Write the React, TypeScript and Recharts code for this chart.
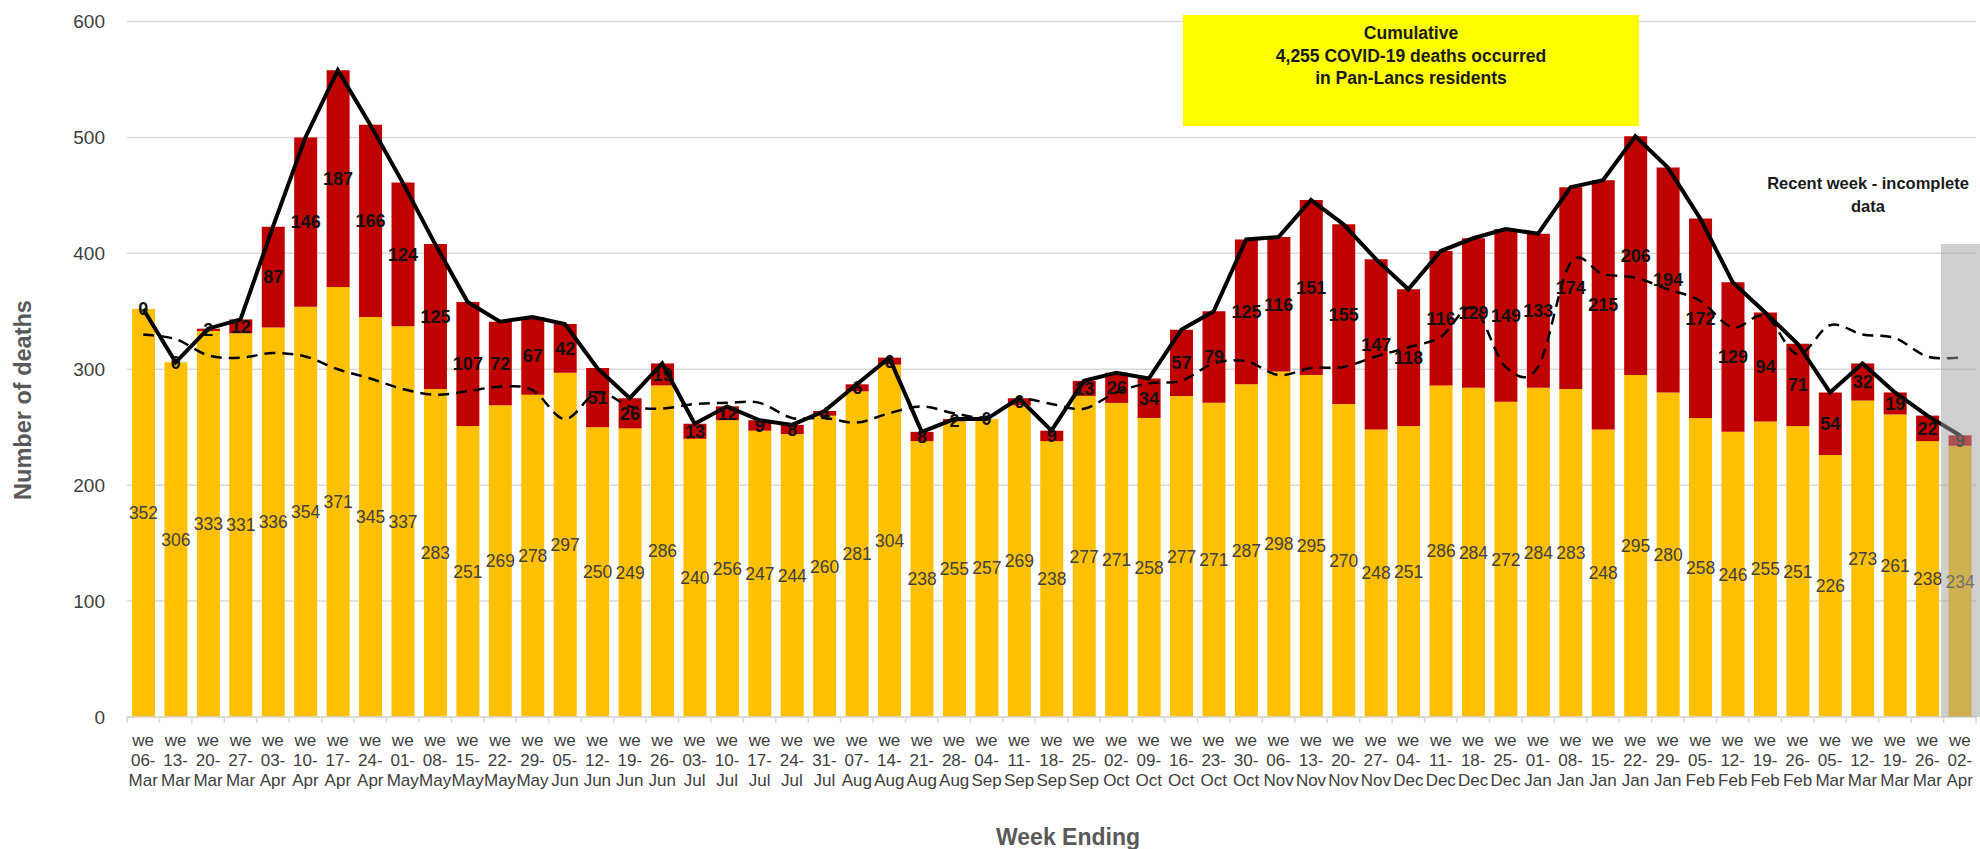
import React from 'react';
import {
  ComposedChart,
  Bar,
  Line,
  XAxis,
  YAxis,
  CartesianGrid,
  LabelList,
} from 'recharts';

const weeks = [
  '06-Mar', '13-Mar', '20-Mar', '27-Mar', '03-Apr', '10-Apr', '17-Apr', '24-Apr', '01-May', '08-May',
  '15-May', '22-May', '29-May', '05-Jun', '12-Jun', '19-Jun', '26-Jun', '03-Jul', '10-Jul', '17-Jul',
  '24-Jul', '31-Jul', '07-Aug', '14-Aug', '21-Aug', '28-Aug', '04-Sep', '11-Sep', '18-Sep', '25-Sep',
  '02-Oct', '09-Oct', '16-Oct', '23-Oct', '30-Oct', '06-Nov', '13-Nov', '20-Nov', '27-Nov', '04-Dec',
  '11-Dec', '18-Dec', '25-Dec', '01-Jan', '08-Jan', '15-Jan', '22-Jan', '29-Jan', '05-Feb', '12-Feb',
  '19-Feb', '26-Feb', '05-Mar', '12-Mar', '19-Mar', '26-Mar', '02-Apr',
];

const nonCovidDeaths = [
  352, 306, 333, 331, 336, 354, 371, 345, 337, 283,
  251, 269, 278, 297, 250, 249, 286, 240, 256, 247,
  244, 260, 281, 304, 238, 255, 257, 269, 238, 277,
  271, 258, 277, 271, 287, 298, 295, 270, 248, 251,
  286, 284, 272, 284, 283, 248, 295, 280, 258, 246,
  255, 251, 226, 273, 261, 238, 234,
];

const covidDeaths = [
  0, 0, 2, 12, 87, 146, 187, 166, 124, 125,
  107, 72, 67, 42, 51, 26, 19, 13, 12, 9,
  8, 4, 6, 6, 8, 2, 0, 6, 9, 13,
  26, 34, 57, 79, 125, 116, 151, 155, 147, 118,
  116, 129, 149, 133, 174, 215, 206, 194, 172, 129,
  94, 71, 54, 32, 19, 22, 9,
];

const totalDeaths = [
  352, 306, 335, 343, 423, 500, 558, 511, 461, 408,
  358, 341, 345, 339, 301, 275, 305, 253, 268, 256,
  252, 264, 287, 310, 246, 257, 257, 275, 247, 290,
  297, 292, 334, 350, 412, 414, 446, 425, 395, 369,
  402, 413, 421, 417, 457, 463, 501, 474, 430, 375,
  349, 322, 280, 305, 280, 260, 243,
];

const averageDeaths = [
  330, 326, 312, 310, 314, 311, 300, 292, 283, 278,
  281, 285, 282, 257, 280, 268, 266, 270, 271, 271,
  258, 258, 254, 262, 268, 262, 259, 274, 270, 266,
  280, 288, 290, 305, 307, 295, 301, 302, 311, 319,
  328, 353, 302, 302, 392, 382, 379, 369, 359, 336,
  346, 313, 338, 330, 327, 311, 310,
];

const yTicks = [0, 100, 200, 300, 400, 500, 600];

const data = weeks.map((week, i) => ({
  week,
  nonCovid: nonCovidDeaths[i],
  covid: covidDeaths[i],
  total: totalDeaths[i],
  average: averageDeaths[i],
}));

const CHART_W = 1980;
const CHART_H = 849;
const PLOT_LEFT = 127;
const PLOT_RIGHT = 1976;
const BAND = (PLOT_RIGHT - PLOT_LEFT) / weeks.length;
const FONT = '"Liberation Sans", Arial, sans-serif';

// Excel-like smoothed line (Catmull-Rom through the points)
const excelSmooth = (context: any) => {
  let pts: number[][] = [];
  return {
    areaStart() {},
    areaEnd() {},
    lineStart() {
      pts = [];
    },
    lineEnd() {
      if (!pts.length) return;
      context.moveTo(pts[0][0], pts[0][1]);
      for (let i = 0; i < pts.length - 1; i++) {
        const p0 = pts[i - 1] || pts[i];
        const p1 = pts[i];
        const p2 = pts[i + 1];
        const p3 = pts[i + 2] || p2;
        const c1x = p1[0] + (p2[0] - p0[0]) / 6;
        const c1y = p1[1] + (p2[1] - p0[1]) / 6;
        const c2x = p2[0] - (p3[0] - p1[0]) / 6;
        const c2y = p2[1] - (p3[1] - p1[1]) / 6;
        context.bezierCurveTo(c1x, c1y, c2x, c2y, p2[0], p2[1]);
      }
    },
    point(x: number, y: number) {
      pts.push([+x, +y]);
    },
  };
};

const WeekTick = (props: any) => {
  const { x, y, payload, index } = props;
  const [day, mon] = String(payload.value).split('-');
  return (
    <g>
      <line x1={x - BAND / 2} x2={x - BAND / 2} y1={y} y2={y + 6} stroke="#D9D9D9" strokeWidth={1.5} />
      {index === weeks.length - 1 && (
        <line x1={x + BAND / 2} x2={x + BAND / 2} y1={y} y2={y + 6} stroke="#D9D9D9" strokeWidth={1.5} />
      )}
      <text x={x} y={y} textAnchor="middle" fill="#404040" fontSize={17} fontFamily={FONT}>
        <tspan x={x} dy={29}>we</tspan>
        <tspan x={x} dy={20}>{day}-</tspan>
        <tspan x={x} dy={20}>{mon}</tspan>
      </text>
    </g>
  );
};

// Zero COVID weeks have no red segment, so their "0" label sits on the top of the stack
const ZeroCovidLabel = (props: any) => {
  const { x, y, index } = props;
  if (covidDeaths[index] !== 0) return null;
  return (
    <text
      x={x}
      y={y}
      dy="0.355em"
      textAnchor="middle"
      fill="#111111"
      fontSize={18}
      fontWeight="bold"
      fontFamily={FONT}
    >
      0
    </text>
  );
};

export default function App() {
  return (
    <div
      style={{
        position: 'relative',
        width: CHART_W,
        height: CHART_H,
        overflow: 'hidden',
        background: '#fff',
        fontFamily: FONT,
      }}
    >
      <style>{'body{margin:0;}'}</style>
      <ComposedChart
        width={CHART_W}
        height={CHART_H}
        data={data}
        margin={{ top: 21.5, right: CHART_W - PLOT_RIGHT, left: 0, bottom: 52 }}
      >
        <CartesianGrid vertical={false} stroke="#D9D9D9" strokeWidth={1.5} />
        <XAxis
          dataKey="week"
          height={80}
          interval={0}
          tickLine={false}
          tickSize={0}
          tickMargin={0}
          axisLine={{ stroke: '#D9D9D9', strokeWidth: 1.5 }}
          tick={<WeekTick />}
        />
        <YAxis
          width={PLOT_LEFT}
          domain={[0, 600]}
          ticks={yTicks}
          interval={0}
          axisLine={false}
          tickLine={false}
          tickSize={0}
          tickMargin={22}
          tick={{ fill: '#404040', fontSize: 19, fontFamily: FONT }}
        />
        <Bar dataKey="nonCovid" stackId="deaths" fill="#FFC000" barSize={23} isAnimationActive={false}>
          <LabelList dataKey="nonCovid" position="center" fill="#404040" fontSize={17.5} fontFamily={FONT} />
        </Bar>
        <Bar dataKey="covid" stackId="deaths" fill="#C00000" barSize={23} isAnimationActive={false}>
          <LabelList
            dataKey="covid"
            position="center"
            fill="#111111"
            fontSize={18}
            fontWeight="bold"
            fontFamily={FONT}
          />
        </Bar>
        <Line
          dataKey="average"
          type={excelSmooth as any}
          stroke="#000000"
          strokeWidth={2.5}
          strokeDasharray="11 7"
          dot={false}
          activeDot={false}
          isAnimationActive={false}
        />
        <Line
          dataKey="total"
          type="linear"
          stroke="#000000"
          strokeWidth={4}
          dot={false}
          activeDot={false}
          isAnimationActive={false}
        >
          <LabelList dataKey="covid" content={<ZeroCovidLabel />} />
        </Line>
      </ComposedChart>

      {/* Recent week shading */}
      <div
        style={{
          position: 'absolute',
          left: 1941,
          top: 244,
          width: 39,
          height: 473,
          background: 'rgba(160,160,160,0.5)',
        }}
      />

      {/* Cumulative annotation */}
      <div
        style={{
          position: 'absolute',
          left: 1183,
          top: 15,
          width: 456,
          height: 111,
          background: '#FFFF00',
          boxSizing: 'border-box',
          paddingTop: 7,
          textAlign: 'center',
          fontWeight: 'bold',
          fontSize: 17.5,
          lineHeight: '22.5px',
          color: '#1a1a1a',
        }}
      >
        <div>Cumulative</div>
        <div>4,255 COVID-19 deaths occurred</div>
        <div>in Pan-Lancs residents</div>
      </div>

      {/* Recent week note */}
      <div
        style={{
          position: 'absolute',
          left: 1748,
          top: 172,
          width: 240,
          textAlign: 'center',
          fontWeight: 'bold',
          fontSize: 16.5,
          lineHeight: '23px',
          color: '#1a1a1a',
        }}
      >
        <div>Recent week - incomplete</div>
        <div>data</div>
      </div>

      {/* Axis titles */}
      <div
        style={{
          position: 'absolute',
          left: 23 - 150,
          top: 400 - 14,
          width: 300,
          height: 28,
          lineHeight: '28px',
          textAlign: 'center',
          transform: 'rotate(-90deg)',
          fontWeight: 'bold',
          fontSize: 23.5,
          color: '#595959',
        }}
      >
        Number of deaths
      </div>
      <div
        style={{
          position: 'absolute',
          left: 1068 - 150,
          top: 837 - 14,
          width: 300,
          height: 28,
          lineHeight: '28px',
          textAlign: 'center',
          fontWeight: 'bold',
          fontSize: 23,
          color: '#595959',
        }}
      >
        Week Ending
      </div>
    </div>
  );
}
